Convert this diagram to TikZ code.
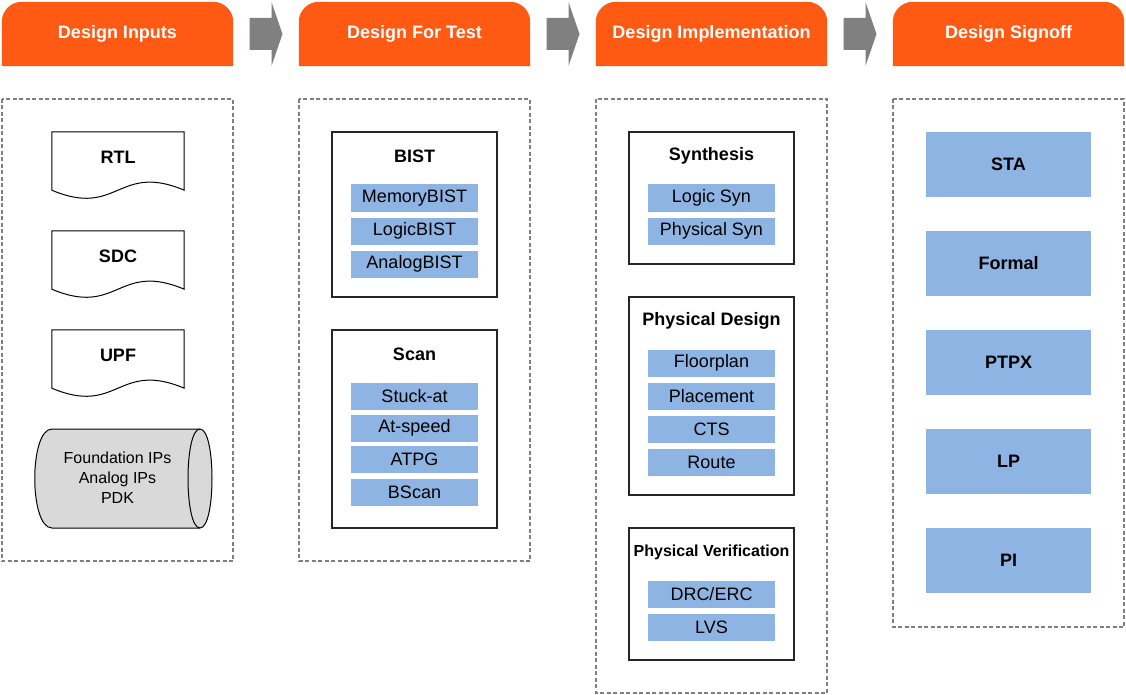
\documentclass[tikz,border=0pt]{standalone}
\usepackage{fontspec}
\setmainfont{Liberation Sans}
\usepackage{xcolor}
\usepackage{tikz}
\usetikzlibrary{calc,positioning,backgrounds}
\definecolor{stageorange}{HTML}{FF5A14}
\definecolor{taskblue}{HTML}{8EB4E3}
\definecolor{arrowgray}{HTML}{808080}
\definecolor{lanegray}{HTML}{7F7F7F}
\definecolor{storegray}{HTML}{D9D9D9}

\begin{document}
\begin{tikzpicture}[x=1pt,y=1pt,
        stage/.style={minimum width=231pt,minimum height=64pt,inner sep=0pt,text=white,font=\bfseries\fontsize{18}{21}\selectfont},
        stagearrow/.style={fill=arrowgray},
        lane/.style={draw=lanegray,line width=1.8pt,dash pattern=on 4pt off 2.5pt},
        doc/.style={minimum width=132pt,minimum height=50pt,inner sep=0pt,font=\bfseries\fontsize{18}{21}\selectfont},
        docline/.style={draw=black,line width=1pt},
        group/.style={draw=black!85,line width=1.3pt,inner sep=0pt,minimum width=165pt},
        grouptitle/.style={inner sep=0pt,font=\bfseries\fontsize{18}{21}\selectfont},
        task/.style={fill=taskblue,minimum width=127pt,minimum height=27pt,inner sep=0pt,font=\fontsize{18}{21}\selectfont},
        signoffbox/.style={fill=taskblue,minimum width=165pt,minimum height=65pt,inner sep=0pt,font=\bfseries\fontsize{18}{21}\selectfont}]
        \useasboundingbox (0,0) rectangle (1126,-695);
        % stage headers
        \node[stage] (inputs) at (117.5,-34) {Design Inputs};
        \node[stage] (dft) at (414.5,-34) {Design For Test};
        \node[stage] (impl) at (711.5,-34) {Design Implementation};
        \node[stage] (signoff) at (1008.5,-34) {Design Signoff};
        \begin{pgfonlayer}{background}
            \foreach \s in {inputs,dft,impl,signoff}
                \fill[stageorange] (\s.south west) -- ([yshift=-20pt]\s.north west) arc[start angle=180,end angle=90,radius=20pt] -- ([xshift=-20pt]\s.north east) arc[start angle=90,end angle=0,radius=20pt] -- (\s.south east) -- cycle;
        \end{pgfonlayer}
        \foreach \a/\b in {inputs/dft,dft/impl,impl/signoff}
            \fill[stagearrow] ($(\a.east)!0.5!(\b.west)+(-16.5,16)$) -- ++(22,0) -- ++(0,16) -- ++(11,-32) -- ++(-11,-32) -- ++(0,16) -- ++(-22,0) -- cycle;
        % dashed lanes
        \draw[lane] (2,-99) rectangle (233,-561);
        \draw[lane] (299,-99) rectangle (530,-561);
        \draw[lane] (596,-99) rectangle (827,-693);
        \draw[lane] (893,-99) rectangle (1124,-627);
        % design inputs
        \node[doc] (rtl) at (118,-157) {RTL};
        \node[doc] (sdc) at (118,-256) {SDC};
        \node[doc] (upf) at (118,-355) {UPF};
        \foreach \d in {rtl,sdc,upf}
            \draw[docline] (\d.north west) -- (\d.north east) -- ([yshift=-8pt]\d.south east) .. controls ([yshift=20pt]\d.south) and ([yshift=-36pt]\d.south) .. ([yshift=-8pt]\d.south west) -- cycle;
        \filldraw[fill=storegray,draw=black,line width=1pt] (52,-429) -- (200,-429) .. controls (216,-429) and (216,-528) .. (200,-528) -- (52,-528) .. controls (29,-528) and (29,-429) .. (52,-429) -- cycle;
        \draw[black,line width=1pt] (200,-429) .. controls (184,-429) and (184,-528) .. (200,-528);
        \node[align=center,inner sep=0pt,font=\fontsize{16}{20}\selectfont] (ips) at (117.5,-478) {Foundation IPs\\Analog IPs\\PDK};
        % design for test
        \node[group,minimum height=165pt] (bist) at (414.5,-214.5) {};
        \node[grouptitle] (bisthead) at (414.5,-156) {BIST};
        \node[task] (membist) at (414.5,-198) {MemoryBIST};
        \node[task] (logbist) at (414.5,-231) {LogicBIST};
        \node[task] (anabist) at (414.5,-264) {AnalogBIST};
        \node[group,minimum height=198pt] (scan) at (414.5,-429) {};
        \node[grouptitle] (scanhead) at (414.5,-354) {Scan};
        \node[task] (stuck) at (414.5,-396) {Stuck-at};
        \node[task] (atspeed) at (414.5,-428) {At-speed};
        \node[task] (atpg) at (414.5,-459) {ATPG};
        \node[task] (bscan) at (414.5,-492) {BScan};
        % design implementation
        \node[group,minimum height=132pt] (synth) at (711.5,-198) {};
        \node[grouptitle] (synthhead) at (711.5,-156) {Synthesis};
        \node[task] (logsyn) at (711.5,-198) {Logic Syn};
        \node[task] (physyn) at (711.5,-231) {Physical Syn};
        \node[group,minimum height=198pt] (pd) at (711.5,-396) {};
        \node[grouptitle] (pdhead) at (711.5,-321) {Physical Design};
        \node[task] (floor) at (711.5,-363) {Floorplan};
        \node[task] (place) at (711.5,-396) {Placement};
        \node[task] (cts) at (711.5,-429) {CTS};
        \node[task] (route) at (711.5,-462) {Route};
        \node[group,minimum height=132pt] (pv) at (711.5,-594) {};
        \node[grouptitle,font=\bfseries\fontsize{16}{19}\selectfont] (pvhead) at (711.5,-552) {Physical Verification};
        \node[task] (drc) at (711.5,-594) {DRC/ERC};
        \node[task] (lvs) at (711.5,-627) {LVS};
        % design signoff
        \node[signoffbox] (sta) at (1008.5,-164.5) {STA};
        \node[signoffbox] (formal) at (1008.5,-263.5) {Formal};
        \node[signoffbox] (ptpx) at (1008.5,-362.5) {PTPX};
        \node[signoffbox] (lp) at (1008.5,-461.5) {LP};
        \node[signoffbox] (pi) at (1008.5,-560.5) {PI};
    \end{tikzpicture}
\end{document}
